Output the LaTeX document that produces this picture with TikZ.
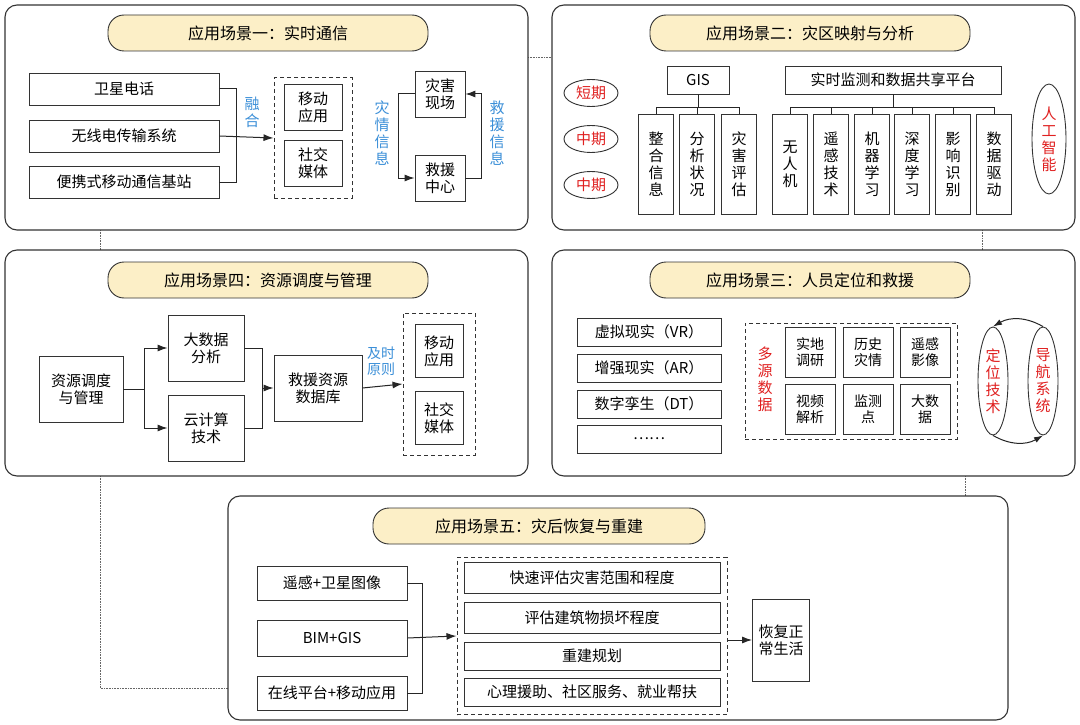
\documentclass[tikz,border=0pt]{standalone}
\usepackage{fontspec}
\setmainfont{Noto Sans CJK SC}
\usetikzlibrary{arrows.meta,shapes.geometric}
\definecolor{pill}{HTML}{FCEFC7}
\definecolor{blu}{HTML}{3B8FD8}
\definecolor{rd}{HTML}{E02020}
\tikzset{
 panel/.style={draw=black!80,line width=1.1pt,rounded corners=12pt},
 pillbox/.style={draw=black!80,line width=0.9pt,fill=pill,rounded corners=16pt},
 bx/.style={draw=black!80,line width=0.9pt,inner sep=0pt},
 dbox/.style={draw=black!80,line width=1pt,dash pattern=on 4pt off 3pt},
 con/.style={line width=1pt,black!85},
 arr/.style={con,-{Latex[length=10pt,width=7pt]}},
 dot/.style={black!60,line width=0.6pt,densely dotted},
 t/.style={font=\fontsize{15}{18}\selectfont,align=center},
 tv/.style={font=\fontsize{15}{17}\selectfont,align=center},
 el/.style={draw=black!80,line width=0.9pt,ellipse,inner sep=0pt}
}
\begin{document}
\begin{tikzpicture}[x=1pt,y=-1pt]
\useasboundingbox (0,0) rectangle (1080,725);
% connectors between panels
\draw[dot] (528,57) -- (552,57);
\draw[dot] (100,230) -- (100,250);
\draw[dot] (982,230) -- (982,250);
\draw[dot] (100,476) -- (100,688) -- (228,688);
\draw[dot] (965,476) -- (965,496);
% panels
\draw[panel,fill=white] (5,5) rectangle (528,230);
\draw[panel,fill=white] (552,5) rectangle (1075,230);
\draw[panel,fill=white] (5,250) rectangle (528,476);
\draw[panel,fill=white] (552,250) rectangle (1075,476);
\draw[panel,fill=white] (228,496) rectangle (1008,720);
% titles
\node[pillbox,minimum width=320pt,minimum height=36pt,t,font=\fontsize{16}{18}\selectfont] (t1) at (268,33) {应用场景一：实时通信};
\node[pillbox,minimum width=320pt,minimum height=36pt,t,font=\fontsize{16}{18}\selectfont] (t2) at (810,33) {应用场景二：灾区映射与分析};
\node[pillbox,minimum width=320pt,minimum height=36pt,t,font=\fontsize{16}{18}\selectfont] (t4) at (268,280) {应用场景四：资源调度与管理};
\node[pillbox,minimum width=320pt,minimum height=36pt,t,font=\fontsize{16}{18}\selectfont] (t3) at (810,280) {应用场景三：人员定位和救援};
\node[pillbox,minimum width=332pt,minimum height=36pt,t,font=\fontsize{16}{18}\selectfont] (t5) at (539,526) {应用场景五：灾后恢复与重建};

% ===== Panel 1
\node[bx,minimum width=190pt,minimum height=32pt,t] (a1) at (124,89) {卫星电话};
\node[bx,minimum width=190pt,minimum height=32pt,t] (a2) at (124,136) {无线电传输系统};
\node[bx,minimum width=190pt,minimum height=32pt,t] (a3) at (124,182) {便携式移动通信基站};
\node[dbox,minimum width=78pt,minimum height=120pt] (d1) at (313,138) {};
\node[bx,minimum width=58pt,minimum height=46pt,tv] (m1) at (313,107) {移动\\应用};
\node[bx,minimum width=58pt,minimum height=46pt,tv] (s1) at (313,163) {社交\\媒体};
\coordinate (j1) at (236,136);
\draw[con] (a1.east) -| (j1);
\draw[con] (a3.east) -| (j1);
\draw[arr] (a2.east) -- (d1.west);
\node[tv,text=blu] (rh) at (252,112) {融\\合};
\node[bx,minimum width=50pt,minimum height=46pt,tv] (zc) at (440,94) {灾害\\现场};
\node[bx,minimum width=50pt,minimum height=46pt,tv] (jy) at (440,178) {救援\\中心};
\draw[arr] (zc.west) -- ++(-16,0) |- (jy.west);
\draw[arr] (jy.east) -- ++(16,0) |- (zc.east);
\node[tv,text=blu] (zq) at (382,133) {灾\\情\\信\\息};
\node[tv,text=blu] (jx) at (497,133) {救\\援\\信\\息};

% ===== Panel 2
\node[el,minimum width=54pt,minimum height=27pt,t,text=rd] (e1) at (591,93) {短期};
\node[el,minimum width=54pt,minimum height=27pt,t,text=rd] (e2) at (591,139) {中期};
\node[el,minimum width=54pt,minimum height=27pt,t,text=rd] (e3) at (591,185) {中期};
\node[bx,minimum width=62pt,minimum height=28pt,t] (gis) at (698,80) {GIS};
\node[bx,minimum width=216pt,minimum height=28pt,t] (plat) at (893,80) {实时监测和数据共享平台};
\foreach \n/\x/\s in {g1/656/整\\合\\信\\息, g2/697/分\\析\\状\\况, g3/739/灾\\害\\评\\估}{
  \node[bx,minimum width=35pt,minimum height=100pt,tv] (\n) at (\x,164) {\s};
  \draw[con] (gis.south) -- ++(0,13) -| (\n.north);
}
\foreach \n/\x/\s in {p1/790/无\\人\\机, p2/831/遥\\感\\技\\术, p3/872/机\\器\\学\\习, p4/912/深\\度\\学\\习, p5/953/影\\响\\识\\别, p6/994/数\\据\\驱\\动}{
  \node[bx,minimum width=35pt,minimum height=100pt,tv] (\n) at (\x,164) {\s};
  \draw[con] (plat.south) -- ++(0,13) -| (\n.north);
}
\node[el,minimum width=34pt,minimum height=110pt,tv,text=rd] (ai) at (1049,139) {人\\工\\智\\能};

% ===== Panel 4
\node[bx,minimum width=84pt,minimum height=66pt,tv] (zy) at (81,389) {资源调度\\与管理};
\node[bx,minimum width=76pt,minimum height=66pt,tv] (dsj) at (206,348) {大数据\\分析};
\node[bx,minimum width=76pt,minimum height=66pt,tv] (yjs) at (206,428) {云计算\\技术};
\node[bx,minimum width=88pt,minimum height=66pt,tv] (db) at (318,388) {救援资源\\数据库};
\node[dbox,minimum width=72pt,minimum height=142pt] (d4) at (439,384) {};
\node[bx,minimum width=48pt,minimum height=53pt,tv] (m4) at (439,351) {移动\\应用};
\node[bx,minimum width=48pt,minimum height=53pt,tv] (s4) at (439,418) {社交\\媒体};
\coordinate (k1) at (144,389);
\draw[con] (zy.east) -- (k1);
\draw[arr] (k1) |- (dsj.west);
\draw[arr] (k1) |- (yjs.west);
\coordinate (k2) at (262,388);
\draw[con] (dsj.east) -| (k2);
\draw[con] (yjs.east) -| (k2);
\draw[arr] (k2) -- (db.west);
\draw[arr] (db.east) -- (d4.west);
\node[tv,text=blu,font=\fontsize{14}{16}\selectfont] (js) at (381,361) {及时\\原则};

% ===== Panel 3
\node[bx,minimum width=144pt,minimum height=28pt,t] (v1) at (649,332) {虚拟现实（VR）};
\node[bx,minimum width=144pt,minimum height=28pt,t] (v2) at (649,368) {增强现实（AR）};
\node[bx,minimum width=144pt,minimum height=28pt,t] (v3) at (649,404) {数字孪生（DT）};
\node[bx,minimum width=144pt,minimum height=28pt,t] (v4) at (649,439) {……};
\node[dbox,minimum width=212pt,minimum height=116pt] (d3) at (851,381) {};
\node[tv,text=rd] (dy) at (765,379) {多\\源\\数\\据};
\foreach \n/\x/\y/\s in {q1/810/352/实地\\调研, q2/868/352/历史\\灾情, q3/925/352/遥感\\影像, q4/810/409/视频\\解析, q5/868/409/监测\\点, q6/925/409/大数\\据}{
  \node[bx,minimum width=50pt,minimum height=50pt,tv,font=\fontsize{14}{16}\selectfont] (\n) at (\x,\y) {\s};
}
\node[el,minimum width=30pt,minimum height=108pt,tv,text=rd] (dw) at (993,381) {定\\位\\技\\术};
\node[el,minimum width=30pt,minimum height=108pt,tv,text=rd] (dh) at (1043,381) {导\\航\\系\\统};
\draw[con,-{Latex[length=9pt,width=6pt]}] (dh.north) to[out=150,in=30] (dw.north);
\draw[con,-{Latex[length=9pt,width=6pt]}] (dw.south) to[out=-30,in=-150] (dh.south);

% ===== Panel 5
\node[bx,minimum width=150pt,minimum height=34pt,t] (r1) at (332,583) {遥感+卫星图像};
\node[bx,minimum width=150pt,minimum height=36pt,t] (r2) at (332,638) {BIM+GIS};
\node[bx,minimum width=150pt,minimum height=34pt,t] (r3) at (332,693) {在线平台+移动应用};
\node[dbox,minimum width=270pt,minimum height=157pt] (d5) at (592,636) {};
\node[bx,minimum width=256pt,minimum height=31pt,t] (w1) at (592,578) {快速评估灾害范围和程度};
\node[bx,minimum width=256pt,minimum height=31pt,t] (w2) at (592,618) {评估建筑物损坏程度};
\node[bx,minimum width=256pt,minimum height=28pt,t] (w3) at (592,656) {重建规划};
\node[bx,minimum width=256pt,minimum height=28pt,t] (w4) at (592,692) {心理援助、社区服务、就业帮扶};
\node[bx,minimum width=57pt,minimum height=82pt,tv] (hf) at (781,640) {恢复正\\常生活};
\coordinate (k5) at (422,638);
\draw[con] (r1.east) -| (k5);
\draw[con] (r3.east) -| (k5);
\draw[arr] (r2.east) -- (d5.west);
\draw[arr] (d5.east |- hf.west) -- (hf.west);
\end{tikzpicture}
\end{document}
